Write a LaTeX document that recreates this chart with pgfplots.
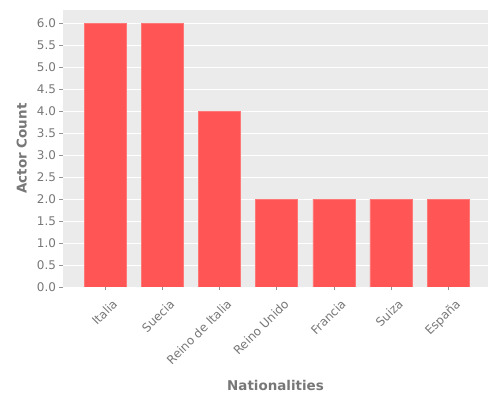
\documentclass[border=0pt]{standalone}
\usepackage{fontspec}
\setmainfont{DejaVu Sans}
\usepackage{pgfplots}
\pgfplotsset{compat=1.18}
\definecolor{panel}{HTML}{EBEBEB}
\definecolor{barred}{HTML}{FF5555}
\definecolor{txtgray}{HTML}{777777}
\begin{document}
\begin{tikzpicture}
\path[use as bounding box] (0,0) rectangle (500bp,400bp);
\begin{axis}[
    at={(63bp,113bp)}, anchor=south west,
    scale only axis,
    width=425bp, height=277bp,
    xmin=-0.74, xmax=6.7,
    ymin=0, ymax=6.3,
    axis background/.style={fill=panel},
    axis line style={draw=none},
    ytick={0,0.5,...,6.0},
    yticklabel style={/pgf/number format/fixed, /pgf/number format/fixed zerofill, /pgf/number format/precision=1, font=\fontsize{12}{14}\selectfont, text=txtgray},
    xtick={0,...,6},
    xticklabels={Italia,Suecia,Reino de Italia,Reino Unido,Francia,Suiza,España},
    xticklabel style={rotate=45, anchor=north east, font=\fontsize{12}{14}\selectfont, text=txtgray, inner sep=1pt, yshift=-9bp, xshift=0bp},
    /pgf/number format/assume math mode=true,
    tick style={draw=txtgray!80, line width=0.5pt},
    tick pos=left,
    tick align=outside,
    major tick length=3.5bp,
    ymajorgrids,
    grid style={draw=white, line width=0.8pt},
    xlabel={\textbf{Nationalities}},
    ylabel={\textbf{Actor Count}},
    label style={font=\fontsize{13.5}{15}\selectfont, text=txtgray},
    xlabel style={at={(axis description cs:0.5,-0.356)}, anchor=center},
    ylabel style={at={(axis description cs:-0.097,0.5)}, anchor=center},
]
\addplot[ybar, bar width=42bp, fill=barred, draw=barred!80!white, line width=0.4pt] coordinates {
    (0,6) (1,6) (2,4) (3,2) (4,2) (5,2) (6,2)
};
\end{axis}
\end{tikzpicture}
\end{document}
